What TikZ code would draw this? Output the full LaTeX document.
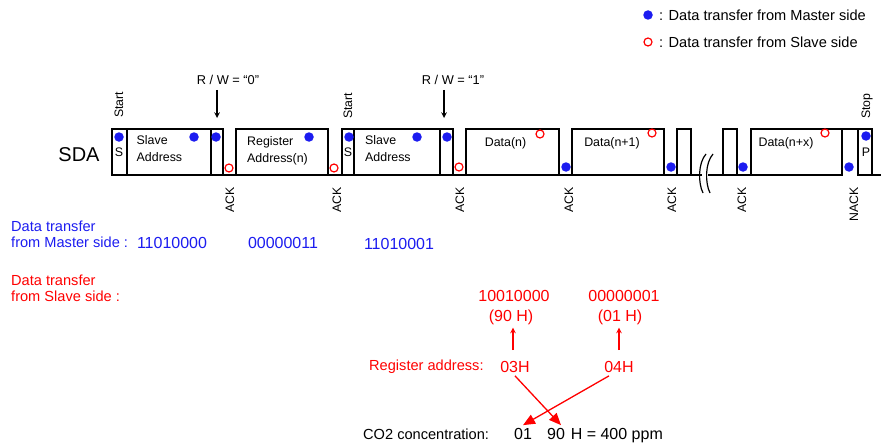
\documentclass[tikz,border=0pt]{standalone}
\usepackage{fontspec}
\setmainfont{Liberation Sans}
\usepackage{tikz}
\usetikzlibrary{arrows, arrows.meta, positioning}
\definecolor{mblue}{RGB}{28,28,240}
\tikzstyle{wave} = [line width=1.8pt, black]
\tikzstyle{brk} = [line width=1.2pt, black]
\tikzstyle{boxtext} = [inner sep=0pt, font=\fontsize{12.4}{16.5}\selectfont, align=left]
\tikzstyle{sig} = [inner sep=0pt, rotate=90, font=\fontsize{12.3}{14}\selectfont]
\tikzstyle{rwtext} = [inner sep=0pt, font=\fontsize{12.8}{14}\selectfont]
\tikzstyle{txt} = [inner sep=0pt, font=\fontsize{14.6}{16}\selectfont, align=left]
\tikzstyle{num} = [inner sep=3pt, font=\fontsize{16}{18}\selectfont]
\tikzstyle{mdot} = [circle, fill=mblue, inner sep=0pt, minimum size=9.5pt]
\tikzstyle{sdot} = [circle, draw=red, line width=1.2pt, inner sep=0pt, minimum size=8pt]
\tikzstyle{arrow} = [line width=1.5pt, ->, >=stealth]
\tikzstyle{redarrow} = [red, line width=1.3pt, -{Triangle[length=12pt, width=10pt]}]

\begin{document}
\begin{tikzpicture}[x=1pt, y=-1pt]
		\useasboundingbox (0,0) rectangle (881,444);
		% legend
		\node (legm) [mdot] at (648,15) {};
		\node (legmtext) [txt, anchor=west] at (659,15) {: Data transfer from Master side};
		\node (legs) [sdot] at (648,42) {};
		\node (legstext) [txt, anchor=west] at (659,42) {: Data transfer from Slave side};
		% SDA line
		\node (sda) [inner sep=0pt, font=\fontsize{20}{22}\selectfont] at (79,155) {SDA};
		\draw [wave] (112,129) rectangle (127,175);
		\draw [wave] (127,129) rectangle (211,175);
		\draw [wave] (211,129) rectangle (223,175);
		\draw [wave] (236,129) rectangle (328,175);
		\draw [wave] (342,129) rectangle (354,175);
		\draw [wave] (354,129) rectangle (440,175);
		\draw [wave] (440,129) rectangle (453,175);
		\draw [wave] (466,129) rectangle (559,175);
		\draw [wave] (572,129) rectangle (664,175);
		\draw [wave] (677,129) rectangle (691,175);
		\draw [wave] (723,129) rectangle (737,175);
		\draw [wave] (751,129) rectangle (842,175);
		\draw [wave] (112,175) -- (702,175);
		\draw [wave] (708,175) -- (842,175);
		\draw [wave] (842,129) -- (873,129);
		\draw [wave] (858,129) -- (858,175) -- (881,175);
		\draw [wave] (872,129) -- (872,175);
		% break
		\draw [brk] (706,154) .. controls (698,163) and (698,183) .. (703,193);
		\draw [brk] (713,154) .. controls (705,163) and (705,183) .. (710,193);
		% box texts
		\node (s1) [boxtext] at (119,152) {S};
		\node (adr1) [boxtext, anchor=west] at (136.5,148.5) {Slave\\Address};
		\node (reg) [boxtext, anchor=west] at (247,151) {Register\\Address(n)};
		\node (s2) [boxtext] at (348,152) {S};
		\node (adr2) [boxtext, anchor=west] at (365,148.5) {Slave\\Address};
		\node (data1) [boxtext] at (505.5,143) {Data(n)};
		\node (data2) [boxtext] at (612,143) {Data(n+1)};
		\node (data3) [boxtext] at (786,143) {Data(n+x)};
		\node (p) [boxtext] at (866,152) {P};
		% master / slave bits
		\node (ms1) [mdot] at (119,137) {};
		\node (madr1) [mdot] at (194,137) {};
		\node (mrw1) [mdot] at (216,137) {};
		\node (sack1) [sdot] at (229,168) {};
		\node (mreg) [mdot] at (309,137) {};
		\node (sack2) [sdot] at (334,168) {};
		\node (ms2) [mdot] at (349,137) {};
		\node (madr2) [mdot] at (417,137) {};
		\node (mrw2) [mdot] at (447,137) {};
		\node (sack3) [sdot] at (459,167) {};
		\node (sdata1) [sdot] at (540,134) {};
		\node (mack1) [mdot] at (566,167) {};
		\node (sdata2) [sdot] at (652,133) {};
		\node (mack2) [mdot] at (671,167) {};
		\node (mack3) [mdot] at (743,167) {};
		\node (sdata3) [sdot] at (825,133) {};
		\node (mnack) [mdot] at (849,167) {};
		\node (mstop) [mdot] at (866,136) {};
		% conditions
		\node (start1) [sig, anchor=west] at (119,118) {Start};
		\node (start2) [sig, anchor=west] at (348,119) {Start};
		\node (stop) [sig, anchor=west] at (867,119) {Stop};
		\node (ack1) [sig, anchor=east] at (230,187) {ACK};
		\node (ack2) [sig, anchor=east] at (337,187) {ACK};
		\node (ack3) [sig, anchor=east] at (460,187) {ACK};
		\node (ack4) [sig, anchor=east] at (569,187) {ACK};
		\node (ack5) [sig, anchor=east] at (672,187) {ACK};
		\node (ack6) [sig, anchor=east] at (742,187) {ACK};
		\node (nack) [sig, anchor=east] at (854,187) {NACK};
		\node (rw0) [rwtext] at (228,80) {R / W = “0”};
		\coordinate (rw0end) at (217,118);
		\draw [arrow, shorten <=5pt] (rw0.south -| rw0end) -- (rw0end);
		\node (rw1) [rwtext] at (453,80) {R / W = “1”};
		\coordinate (rw1end) at (444,118);
		\draw [arrow, shorten <=5pt] (rw1.south -| rw1end) -- (rw1end);
		% transferred bytes
		\node (mtitle) [txt, mblue, anchor=west] at (11,234.5) {Data transfer\\from Master side :};
		\node (m1) [num, mblue] at (172,243) {11010000};
		\node (m2) [num, mblue] at (283,243) {00000011};
		\node (m3) [num, mblue] at (399,244) {11010001};
		\node (stitle) [txt, red, anchor=west] at (11,288) {Data transfer\\from Slave side :};
		\node (b90) [num, red] at (514,296) {10010000};
		\node (h90) [num, red] at (511,317) {(90 H)};
		\node (b01) [num, red] at (624,296) {00000001};
		\node (h01) [num, red] at (620,317) {(01 H)};
		\node (regaddr) [txt, red, anchor=west] at (369,367) {Register address:};
		\node (r03) [num, red] at (515,367) {03H};
		\node (r04) [num, red] at (619,367) {04H};
		\draw [arrow, red, shorten <=8pt] ([xshift=-2pt]r03.north) -- ([xshift=-2pt]r03.north |- h90.south);
		\draw [arrow, red, shorten <=8pt] (r04.north) -- (r04.north |- h01.south);
		% result
		\node (co2) [txt, anchor=west] at (363,434) {CO2 concentration:};
		\node (c01) [num] at (523,434) {01};
		\node (c90) [num] at (556,434) {90};
		\node (ppm) [num, base right=-0.5pt of c90] {H = 400 ppm};
		\draw [redarrow] (r03.south) -- ([xshift=5pt]c90.north);
		\draw [redarrow] ([xshift=-10pt]r04.south) -- (c01.north);
\end{tikzpicture}
\end{document}
